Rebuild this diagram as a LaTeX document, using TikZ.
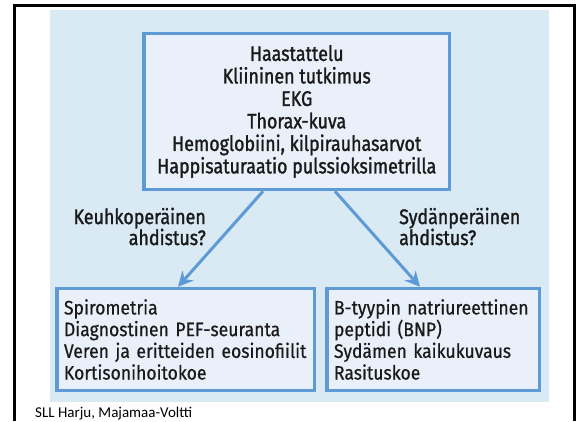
\documentclass[tikz,border=0pt]{standalone}
\usepackage{fontspec}
\setmainfont{Fira Sans}
\newfontfamily\headfont{Fira Sans}[FakeStretch=0.85,FakeBold=1.3]
\newfontfamily\bodyfont{Fira Sans}[FakeStretch=0.90,FakeBold=0.6]
\newfontfamily\footfont{Carlito}
\usetikzlibrary{arrows.meta}
\definecolor{bgblue}{HTML}{D9EAF5}
\definecolor{boxfill}{HTML}{EAF0FA}
\definecolor{boxline}{HTML}{5E9AD6}
\definecolor{txt}{HTML}{1A1A1A}
\tikzset{
  box/.style={draw=boxline, fill=boxfill, line width=3.5pt, inner ysep=0pt},
  arr/.style={draw=boxline, line width=3pt, -{Stealth[length=15pt,width=15pt,inset=5pt]}},
  lbl/.style={inner sep=0pt, font=\headfont\fontsize{21}{21}\selectfont, text=txt}
}
\begin{document}
\begin{tikzpicture}[x=1pt,y=1pt]
\useasboundingbox (0,0) rectangle (578,-421);
\fill[white] (0,0) rectangle (578,-421);
% frame
\draw[black, line width=3pt] (14.5,-421) -- (14.5,-5.5) -- (574,-5.5) -- (574,-421);
% background
\fill[bgblue] (50,-10) rectangle (549,-402);
% top box
\node[box, minimum width=305.5pt, minimum height=156pt, align=center, text=txt,
  font=\headfont\fontsize{21}{22.5}\selectfont] (top) at (296.75,-111.5)
  {Haastattelu\\Kliininen tutkimus\\EKG\\Thorax-kuva\\Hemoglobiini, kilpirauhasarvot\\Happisaturaatio pulssioksimetrilla};
% bottom boxes
\node[box, minimum height=102pt, inner xsep=7.25pt, text width=243pt, align=left, text=txt,
  font=\bodyfont\fontsize{19.5}{21.7}\selectfont] (left) at (185.5,-339.5)
  {Spirometria\\Diagnostinen PEF-seuranta\\Veren ja eritteiden eosinofiilit\\Kortisonihoitokoe};
\node[box, minimum height=102pt, inner xsep=7.25pt, text width=198pt, align=left, text=txt,
  font=\bodyfont\fontsize{19.5}{21.7}\selectfont] (right) at (433,-339.5)
  {B-tyypin natriureettinen\\peptidi (BNP)\\Sydämen kaikukuvaus\\Rasituskoe};
% arrows
\draw[arr] ([xshift=-33.75pt]top.south) -- ([xshift=-7.5pt]left.north);
\draw[arr] ([xshift=38.25pt]top.south) -- ([xshift=-13pt]right.north);
% labels
\node[lbl, anchor=east, align=right] (lq) at (206,-226.5) {Keuhkoperäinen\\ahdistus?};
\node[lbl, anchor=west, align=left] (rq) at (399,-226.5) {Sydänperäinen\\ahdistus?};
% footer
\node[inner sep=0pt, anchor=west, font=\footfont\fontsize{15}{17}\selectfont] (foot) at (35,-413.5) {SLL Harju, Majamaa-Voltti};
\end{tikzpicture}
\end{document}
